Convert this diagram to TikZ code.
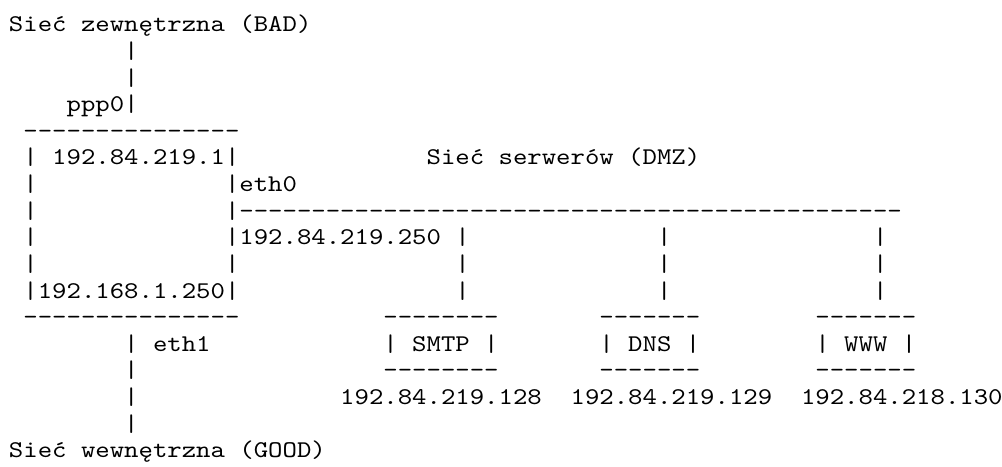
\documentclass[tikz,border=0pt]{standalone}
\usepackage{fontspec}
\newfontfamily\asciifont[FakeStretch=1.1429]{lmmono10-regular.otf}
\usetikzlibrary{positioning}

\begin{document}
\begin{tikzpicture}[x=14.4pt, y=-26.6pt,
  txt/.style={anchor=base west, inner sep=0pt, outer sep=0pt, font=\asciifont\fontsize{24pt}{27pt}\selectfont}]
\useasboundingbox (-0.625,-0.203) rectangle (68.958,17.316);
% Outer network
\node[txt] (bad) at (0,1) {Sieć zewnętrzna (BAD)};
\node[txt] (badl2) at (8,2) {|};
\node[txt] (badl3) at (8,3) {|};
\node[txt] (ppp) at (4,4) {ppp0|};
% Gateway box
\node[txt] (gwtop) at (1,5) {---------------};
\node[txt] (gwext) at (1,6) {| 192.84.219.1|};
\node[txt] (gwl7) at (1,7) {|};
\node[txt] (eth0) at (15,7) {|eth0};
\node[txt] (gwl8) at (1,8) {|};
\node[txt] (dmzbus) at (15,8) {|----------------------------------------------};
\node[txt] (gwl9) at (1,9) {|};
\node[txt] (gwdmz) at (15,9) {|192.84.219.250 |};
\node[txt] (gwl10) at (1,10) {|};
\node[txt] (gwr10) at (15,10) {|};
\node[txt] (gwint) at (1,11) {|192.168.1.250|};
\node[txt] (gwbot) at (1,12) {---------------};
% DMZ
\node[txt] (dmz) at (29,6) {Sieć serwerów (DMZ)};
\foreach \r in {10,11}
  \node[txt] (drop31-\r) at (31,\r) {|};
\foreach \c in {45,60}
  \foreach \r in {9,10,11}
    \node[txt] (drop\c-\r) at (\c,\r) {|};
% Servers
\node[txt] (smtptop) at (26,12) {--------};
\node[txt] (smtp) at (26,13) {| SMTP |};
\node[txt] (smtpbot) at (26,14) {--------};
\node[txt] (smtpip) at (23,15) {192.84.219.128};
\node[txt] (dnstop) at (41,12) {-------};
\node[txt] (dns) at (41,13) {| DNS |};
\node[txt] (dnsbot) at (41,14) {-------};
\node[txt] (dnsip) at (39,15) {192.84.219.129};
\node[txt] (wwwtop) at (56,12) {-------};
\node[txt] (www) at (56,13) {| WWW |};
\node[txt] (wwwbot) at (56,14) {-------};
\node[txt] (wwwip) at (55,15) {192.84.218.130};
% Inner network
\node[txt] (eth1) at (8,13) {| eth1};
\node[txt] (goodl14) at (8,14) {|};
\node[txt] (goodl15) at (8,15) {|};
\node[txt] (goodl16) at (8,16) {|};
\node[txt] (good) at (0,17) {Sieć wewnętrzna (GOOD)};
\end{tikzpicture}
\end{document}
